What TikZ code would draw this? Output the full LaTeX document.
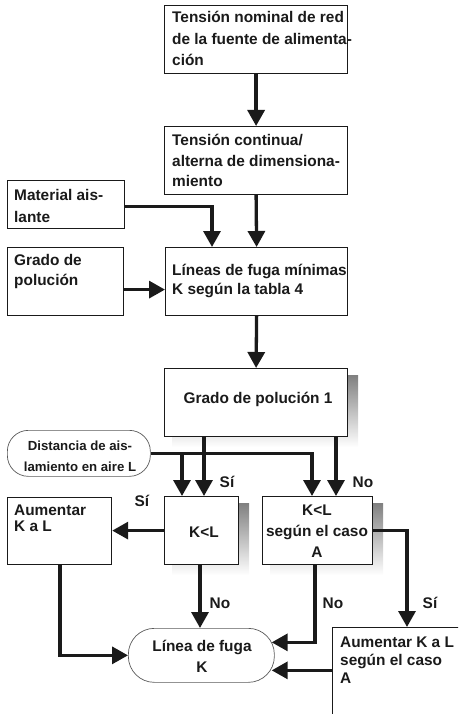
\documentclass[tikz,border=0pt]{standalone}
\usepackage{fontspec}
\setmainfont{Liberation Sans}
\usetikzlibrary{arrows.meta,calc,backgrounds}
\definecolor{ink}{HTML}{1A1A1A}
\definecolor{shade}{HTML}{C8C8C8}
\definecolor{rim}{HTML}{5A5A5A}
\tikzset{
  box/.style={draw=ink, line width=1.2pt, fill=white, inner sep=0pt, anchor=north west},
  rnd/.style={draw=rim, line width=0.7pt, fill=white, inner sep=0pt, anchor=north west},
  txt/.style={inner sep=0pt, font=\fontsize{15.4}{21}\selectfont\bfseries, text=ink, align=left, anchor=base west},
  ctxt/.style={txt, align=center, anchor=base},
  flow/.style={draw=ink, line width=3.3pt, -{Triangle[width=17pt,length=16pt]}},
  lbl/.style={inner sep=0pt, font=\fontsize{15.4}{18}\selectfont\bfseries, text=ink, anchor=base},
}
\begin{document}
\begin{tikzpicture}[x=1pt,y=-1pt]
\useasboundingbox (0,0) rectangle (458,714);
% boxes
\node[box, minimum width=183pt, minimum height=68pt] (b1) at (164,5) {};
\node[box, minimum width=183pt, minimum height=68pt] (b2) at (164,126) {};
\node[box, minimum width=117pt, minimum height=48pt] (mat) at (7,180) {};
\node[box, minimum width=116pt, minimum height=68pt] (gp) at (7,247) {};
\node[box, minimum width=182pt, minimum height=68pt] (lf) at (165,247) {};
\node[box, minimum width=183pt, minimum height=68pt] (gp1) at (164,368) {};
\node[rnd, rounded corners=21pt, minimum width=143pt, minimum height=46pt] (dist) at (7,430) {};
\node[box, minimum width=74pt, minimum height=68pt] (kl) at (164,496) {};
\node[box, minimum width=110pt, minimum height=68pt] (kls) at (262,496) {};
\node[box, minimum width=104pt, minimum height=67pt] (aum) at (7,497) {};
\node[rnd, rounded corners=26pt, minimum width=146pt, minimum height=54pt] (lfk) at (128,628) {};
\begin{scope}
\clip (0,0) rectangle (458,714);
\node[box, minimum width=140pt, minimum height=100pt] (aum2) at (332,627) {};
\end{scope}
% shadows
\begin{scope}[on background layer]
\foreach \n in {gp1,kl,kls}
  \fill[shade] ($(\n.north west)+(8,7)$) rectangle ($(\n.south east)+(10,10)$);
\end{scope}
% texts (anchor = baseline of the last line)
\node[txt, font=\fontsize{15.4}{21.5}\selectfont\bfseries] (t1) at (172,66) {Tensión nominal de red\\de la fuente de alimenta-\\ción};
\node[txt, font=\fontsize{15.4}{20}\selectfont\bfseries] (t2) at (172,186) {Tensión continua/\\alterna de dimensiona-\\miento};
\node[txt] (t3) at (14,222) {Material ais-\\lante};
\node[txt, font=\fontsize{15.4}{20}\selectfont\bfseries] (t4) at (14,285) {Grado de\\polución};
\node[txt, font=\fontsize{15.4}{19}\selectfont\bfseries] (t5) at (172,294) {Líneas de fuga mínimas\\K según la tabla 4};
\node[ctxt] (t6) at (258,403) {Grado de polución 1};
\node[ctxt, font=\fontsize{13.2}{21}\selectfont\bfseries] (t7) at (80,471) {Distancia de ais-\\lamiento en aire L};
\node[ctxt] (t8) at (204,537) {K<L};
\node[ctxt, font=\fontsize{15.4}{21}\selectfont\bfseries] (t9) at (317,557) {K<L\\según el caso\\A};
\node[txt, font=\fontsize{15.4}{15.5}\selectfont\bfseries] (t10) at (14,531) {Aumentar\\K a L};
\node[ctxt] (t11) at (202,672) {Línea de fuga\\K};
\node[txt, font=\fontsize{15.4}{18}\selectfont\bfseries] (t12) at (340,683) {Aumentar K a L\\según el caso\\A};
% connectors
\draw[flow] (b1.south) -- (b2.north);
\draw[flow] (b2.south) -- (lf.north);
\coordinate (m1) at ($(mat.east)+(0,2)$);
\coordinate (m2) at ($(lf.north west)+(47,0)$);
\draw[flow] (m1) -| (m2);
\coordinate (g1) at ($(gp.east)+(0,8)$);
\draw[flow] (g1) -- (g1 -| lf.west);
\draw[flow] (lf.south) -- (gp1.north);
\coordinate (p1) at ($(gp1.south west)+(40,0)$);
\draw[flow] (p1) -- (p1 |- kl.north);
\coordinate (p2) at ($(gp1.south west)+(172,0)$);
\draw[flow] (p2) -- (p2 |- kls.north);
\coordinate (q1) at ($(kl.north west)+(18,0)$);
\coordinate (q2) at ($(kls.north west)+(50,0)$);
\draw[flow] (dist.east) -| (q2);
\draw[flow] (q1 |- dist.east) -- (q1);
\draw[flow] (kl.west) -- (kl.west -| aum.east);
\coordinate (a1) at ($(aum.south west)+(53,0)$);
\draw[flow] (a1) |- (lfk.west);
\coordinate (k2) at ($(kl.south west)+(36,0)$);
\draw[flow] (k2) -- (k2 |- lfk.north);
\coordinate (k3) at ($(kls.south west)+(53,0)$);
\coordinate (e1) at ($(lfk.east)+(-3,-13)$);
\draw[flow] (k3) |- (e1);
\coordinate (r1) at ($(aum2.north west)+(75,0)$);
\draw[flow] (kls.east) -| (r1);
\coordinate (e2) at ($(lfk.east)+(-3,15)$);
\draw[flow] (aum2.west |- e2) -- (e2);
% labels
\node[lbl] (s1) at (227,487) {Sí};
\node[lbl] (n1) at (363,487) {No};
\node[lbl] (s2) at (142,506) {Sí};
\node[lbl] (n2) at (220,608) {No};
\node[lbl] (n3) at (333,608) {No};
\node[lbl] (s3) at (430,608) {Sí};
\end{tikzpicture}
\end{document}
